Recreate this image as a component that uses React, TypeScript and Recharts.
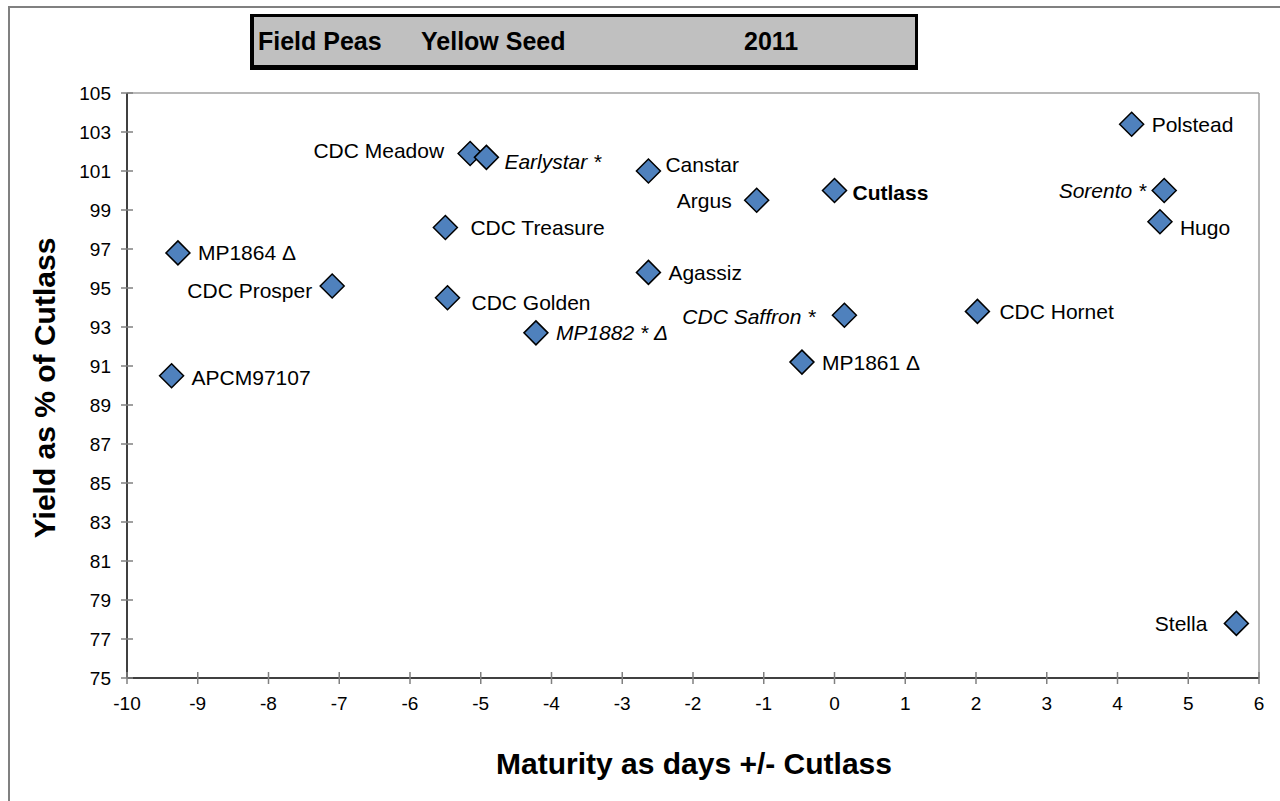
import React from 'react';
import { ScatterChart, Scatter, XAxis, YAxis, ReferenceLine, Label } from 'recharts';

const varieties = [
  'Polstead', 'CDC Meadow', 'Earlystar', 'Canstar', 'Argus', 'Cutlass', 'Sorento', 'Hugo',
  'CDC Treasure', 'MP1864', 'CDC Prosper', 'Agassiz', 'CDC Golden', 'MP1882', 'CDC Saffron',
  'CDC Hornet', 'MP1861', 'APCM97107', 'Stella',
];
const labelSuffix = ['', '', ' *', '', '', '', ' *', '', '', ' \u0394', '', '', '', ' * \u0394', ' *', '', ' \u0394', '', ''];
const maturity = [4.2, -5.15, -4.92, -2.63, -1.1, 0, 4.66, 4.6, -5.5, -9.28, -7.1, -2.63, -5.47, -4.22, 0.14, 2.02, -0.46, -9.37, 5.68];
const yieldPct = [103.4, 101.9, 101.7, 101.0, 99.5, 100, 100, 98.4, 98.1, 96.8, 95.1, 95.8, 94.5, 92.7, 93.6, 93.8, 91.2, 90.5, 77.8];
const xTicks = [-10, -9, -8, -7, -6, -5, -4, -3, -2, -1, 0, 1, 2, 3, 4, 5, 6];
const yTicks = [75, 77, 79, 81, 83, 85, 87, 89, 91, 93, 95, 97, 99, 101, 103, 105];

const points = varieties.map((name, i) => ({
  name,
  label: name + labelSuffix[i],
  x: maturity[i],
  y: yieldPct[i],
}));

// label placement: side, horizontal gap, vertical nudge, font style
const placement: Record<string, { side: 'L' | 'R'; gap?: number; dy?: number; style?: 'i' | 'b' }> = {
  Polstead: { side: 'R' },
  'CDC Meadow': { side: 'L', gap: 26, dy: -3 },
  Earlystar: { side: 'R', gap: 18, dy: 4, style: 'i' },
  Canstar: { side: 'R', gap: 17, dy: -7 },
  Argus: { side: 'L', gap: 25 },
  Cutlass: { side: 'R', gap: 18, dy: 2, style: 'b' },
  Sorento: { side: 'L', gap: 18, style: 'i' },
  Hugo: { side: 'R', dy: 6 },
  'CDC Treasure': { side: 'R', gap: 25 },
  MP1864: { side: 'R' },
  'CDC Prosper': { side: 'L', gap: 20, dy: 4 },
  Agassiz: { side: 'R' },
  'CDC Golden': { side: 'R', gap: 24, dy: 5 },
  MP1882: { side: 'R', style: 'i' },
  'CDC Saffron': { side: 'L', gap: 29, dy: 1, style: 'i' },
  'CDC Hornet': { side: 'R', gap: 22 },
  MP1861: { side: 'R' },
  APCM97107: { side: 'R', dy: 2 },
  Stella: { side: 'L', gap: 29 },
};

const FONT = '"Liberation Sans", Arial, sans-serif';
const W = 1280;
const H = 801;
const PLOT_LEFT = 127;
const PLOT_BOTTOM = 678;

const Diamond = (props: any) => {
  const { cx, cy, payload } = props;
  const r = 12;
  const p = placement[payload.name] || { side: 'R' };
  const gap = p.gap ?? 20;
  const tx = p.side === 'R' ? cx + gap : cx - gap;
  return (
    <g>
      <polygon
        points={`${cx},${cy - r} ${cx + r},${cy} ${cx},${cy + r} ${cx - r},${cy}`}
        fill="#4f81bd"
        stroke="#000"
        strokeWidth={1.5}
      />
      <text
        x={tx}
        y={cy + (p.dy ?? 0)}
        textAnchor={p.side === 'R' ? 'start' : 'end'}
        dominantBaseline="central"
        fontFamily={FONT}
        fontSize={21}
        fontStyle={p.style === 'i' ? 'italic' : 'normal'}
        fontWeight={p.style === 'b' ? 'bold' : 'normal'}
        fill="#000"
      >
        {payload.label}
      </text>
    </g>
  );
};

const XTick = (props: any) => {
  const { x, payload } = props;
  return (
    <g>
      <line x1={x} x2={x} y1={PLOT_BOTTOM - 6} y2={PLOT_BOTTOM + 6} stroke="#808080" strokeWidth={1.5} />
      <text x={x} y={PLOT_BOTTOM + 25} textAnchor="middle" dominantBaseline="central" fontFamily={FONT} fontSize={19} fill="#000">
        {payload.value}
      </text>
    </g>
  );
};

const YTick = (props: any) => {
  const { y, payload } = props;
  return (
    <g>
      <line x1={PLOT_LEFT - 6} x2={PLOT_LEFT + 6} y1={y} y2={y} stroke="#808080" strokeWidth={1.5} />
      <text x={PLOT_LEFT - 16} y={y} textAnchor="end" dominantBaseline="central" fontFamily={FONT} fontSize={19} fill="#000">
        {payload.value}
      </text>
    </g>
  );
};

export default function App() {
  return (
    <div style={{ position: 'absolute', left: 0, top: 0, width: W, height: H, background: '#fff', overflow: 'hidden' }}>
      <div
        style={{
          position: 'absolute',
          left: 8,
          top: 6,
          width: W,
          height: H,
          borderLeft: '2px solid #808080',
          borderTop: '2px solid #808080',
        }}
      />
      <div
        style={{
          position: 'absolute',
          left: 250,
          top: 14,
          width: 661,
          height: 48,
          background: '#c0c0c0',
          borderTop: '3px solid #000',
          borderRight: '3px solid #000',
          borderLeft: '4px solid #000',
          borderBottom: '5px solid #000',
          fontFamily: FONT,
          fontWeight: 'bold',
          fontSize: 25,
          lineHeight: '48px',
          whiteSpace: 'pre',
        }}
      >
        <span style={{ position: 'absolute', left: 4 }}>Field Peas</span>
        <span style={{ position: 'absolute', left: 167 }}>Yellow Seed</span>
        <span style={{ position: 'absolute', left: 490 }}>2011</span>
      </div>
      <div style={{ position: 'absolute', left: 0, top: 0 }}>
        <ScatterChart width={W} height={H} margin={{ top: 93, right: 21, left: 0, bottom: 0 }}>
          <XAxis
            type="number"
            dataKey="x"
            domain={[-10, 6]}
            ticks={xTicks}
            interval={0}
            height={123}
            axisLine={{ stroke: '#000', strokeWidth: 1.5 }}
            tickLine={false}
            tick={<XTick />}
          >
            <Label
              content={() => (
                <text x={694} y={763} textAnchor="middle" dominantBaseline="central" fontFamily={FONT} fontSize={30} fontWeight="bold" fill="#000">
                  Maturity as days +/- Cutlass
                </text>
              )}
            />
          </XAxis>
          <YAxis
            type="number"
            dataKey="y"
            domain={[75, 105]}
            ticks={yTicks}
            interval={0}
            width={127}
            axisLine={{ stroke: '#000', strokeWidth: 1.5 }}
            tickLine={false}
            tick={<YTick />}
          >
            <Label
              content={() => (
                <text
                  x={44}
                  y={388}
                  transform="rotate(-90 44 388)"
                  textAnchor="middle"
                  dominantBaseline="central"
                  fontFamily={FONT}
                  fontSize={30}
                  fontWeight="bold"
                  fill="#000"
                >
                  Yield as % of Cutlass
                </text>
              )}
            />
          </YAxis>
          <ReferenceLine y={105} stroke="#a0a0a0" strokeWidth={1.5} />
          <ReferenceLine x={6} stroke="#a0a0a0" strokeWidth={1.5} />
          <Scatter data={points} shape={<Diamond />} isAnimationActive={false} />
        </ScatterChart>
      </div>
    </div>
  );
}
